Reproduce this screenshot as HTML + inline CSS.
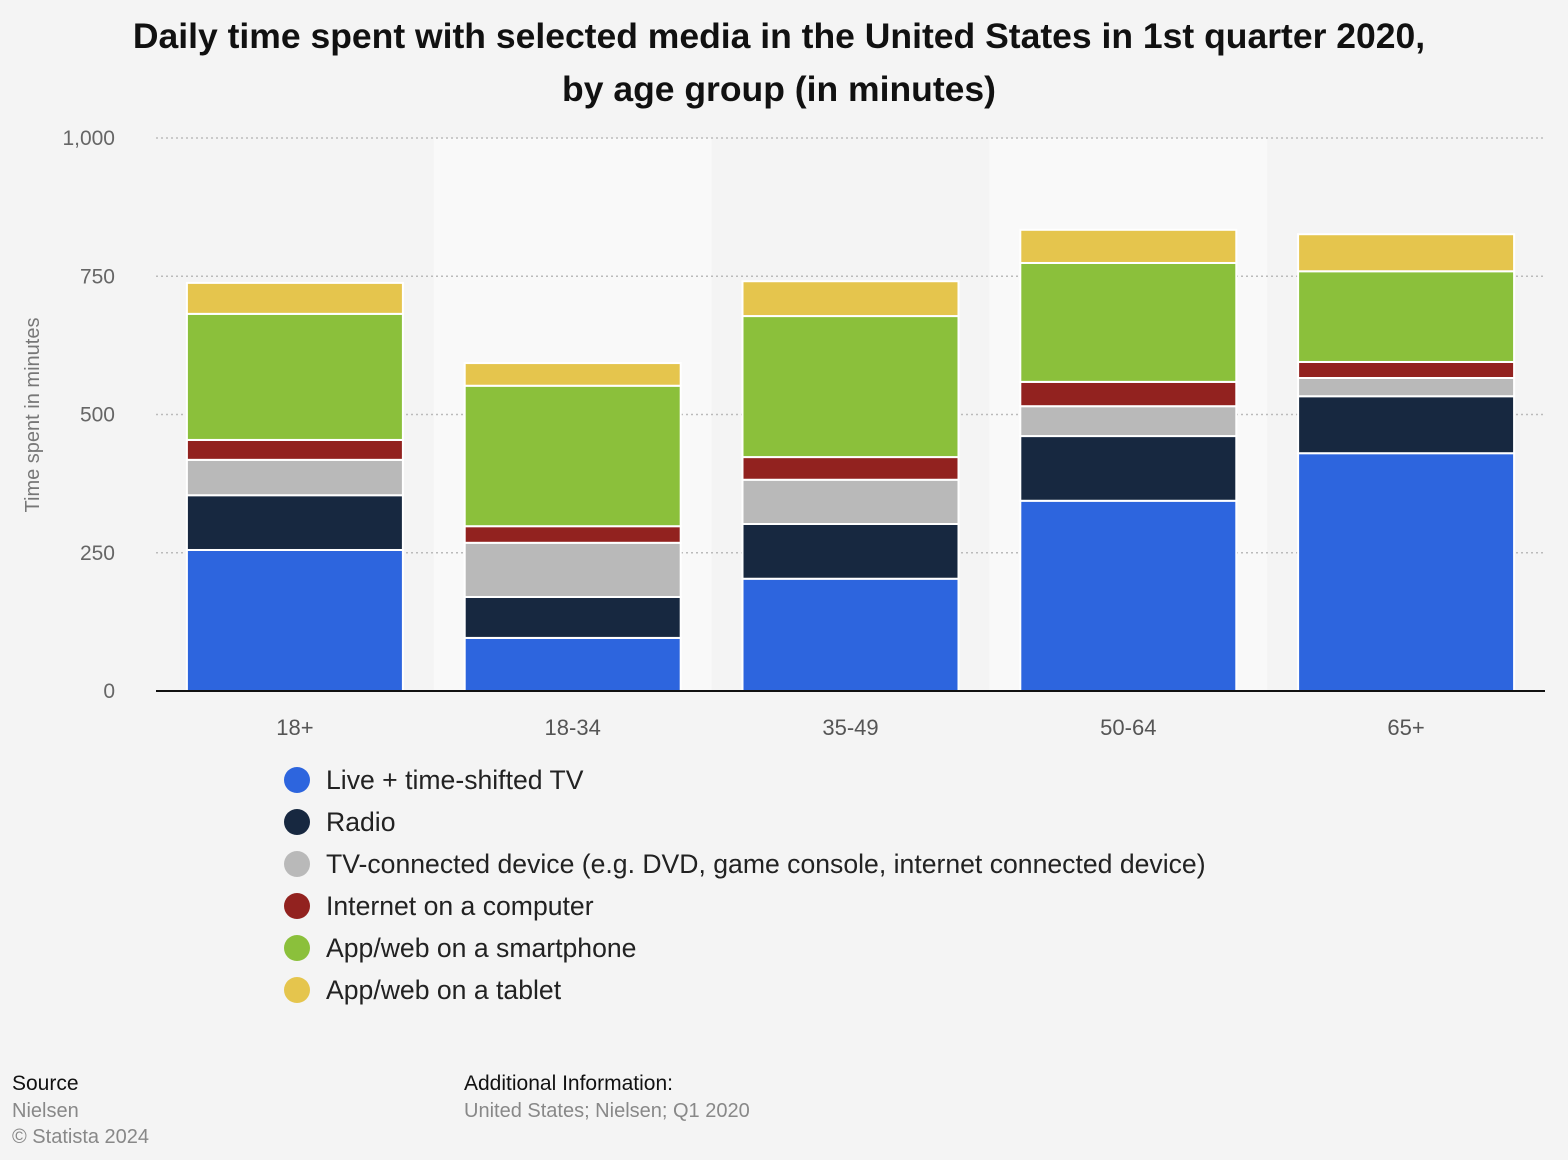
<!DOCTYPE html>
<html><head><meta charset="utf-8"><style>
body{margin:0;background:#f4f4f4;font-family:"Liberation Sans",sans-serif;}
svg{display:block}
</style></head><body>
<svg width="1568" height="1160" viewBox="0 0 1568 1160" xmlns="http://www.w3.org/2000/svg">
<rect width="1568" height="1160" fill="#f4f4f4"/>
<text x="779" y="48" text-anchor="middle" font-size="35.5" font-weight="bold" fill="#111">Daily time spent with selected media in the United States in 1st quarter 2020,</text>
<text x="779" y="101" text-anchor="middle" font-size="35.5" font-weight="bold" fill="#111">by age group (in minutes)</text>
<g id="bands"></g>
<g id="grid"></g>
<g id="bars"></g>
<line x1="156" y1="691" x2="1545" y2="691" stroke="#111" stroke-width="2"/>
<text transform="translate(39,415) rotate(-90)" text-anchor="middle" font-size="20" fill="#777">Time spent in minutes</text>
<g id="legend"></g>
<text x="12" y="1090" font-size="21" fill="#111">Source</text>
<text x="12" y="1117" font-size="20" fill="#888">Nielsen</text>
<text x="12" y="1143" font-size="20" fill="#888">© Statista 2024</text>
<text x="464" y="1090" font-size="21" fill="#111">Additional Information:</text>
<text x="464" y="1117" font-size="20" fill="#888">United States; Nielsen; Q1 2020</text>
</svg>
<script>
const categories=["18+","18-34","35-49","50-64","65+"];
const seriesNames=["Live + time-shifted TV","Radio","TV-connected device (e.g. DVD, game console, internet connected device)","Internet on a computer","App/web on a smartphone","App/web on a tablet"];
const liveTV=[255,96,203,344,430];
const radio=[99,74,99,117,103];
const tvDevice=[64,98,80,54,33];
const internetPC=[36,30,41,44,29];
const smartphone=[228,254,255,215,164];
const tablet=[56,41,63,60,67];
const yTicks=[0,250,500,750,1000];
const yTickLabels=["0","250","500","750","1,000"];
const colors=["#2d65de","#172840","#b9b9b9","#92221f","#8bc03b","#e5c54d"];
const series=[liveTV,radio,tvDevice,internetPC,smartphone,tablet];
const NS="http://www.w3.org/2000/svg";
const x0=156,x1=1545,y0=691,yTop=138;
const y=v=>y0-(v/1000)*(y0-yTop);
const band=(x1-x0)/categories.length;
const cx=i=>x0+band*(i+0.5);
function mk(tag,attrs,parent){const e=document.createElementNS(NS,tag);for(const k in attrs)e.setAttribute(k,attrs[k]);document.getElementById(parent).appendChild(e);return e;}
categories.forEach((c,i)=>{
 if(i%2===1){const r=mk('rect',{x:x0+band*i,y:yTop,width:band,height:y0-yTop,fill:'#f9f9f9'},'bands');
 
 }
 const t=mk('text',{x:cx(i),y:735,'text-anchor':'middle','font-size':22,fill:'#555'},'grid');t.textContent=c;
 
 
});
yTicks.forEach((v,i)=>{
 if(v>0){const l=mk('line',{x1:x0,x2:x1,y1:y(v),y2:y(v),stroke:'#bbb','stroke-width':1.5,'stroke-dasharray':'2,3'},'grid');
 
 }
 const t=mk('text',{x:115,y:y(v)+7,'text-anchor':'end','font-size':21,fill:'#666'},'grid');t.textContent=yTickLabels[i];
 
 
});
const bw=216;
categories.forEach((c,i)=>{
 let acc=0;
 series.forEach((s,k)=>{
  const v=s[i];
  const r=mk('rect',{x:cx(i)-bw/2,y:y(acc+v),width:bw,height:y(acc)-y(acc+v),fill:colors[k],stroke:'#fff','stroke-width':2},'bars');
  
  
  acc+=v;
 });
});
seriesNames.forEach((n,k)=>{
 const yy=780+k*42;
 const c=mk('circle',{cx:297,cy:yy,r:13,fill:colors[k]},'legend');
 
 
 const t=mk('text',{x:326,y:yy+9,'font-size':26.6,fill:'#222'},'legend');t.textContent=n;
 
 
});
</script>
</body></html>
